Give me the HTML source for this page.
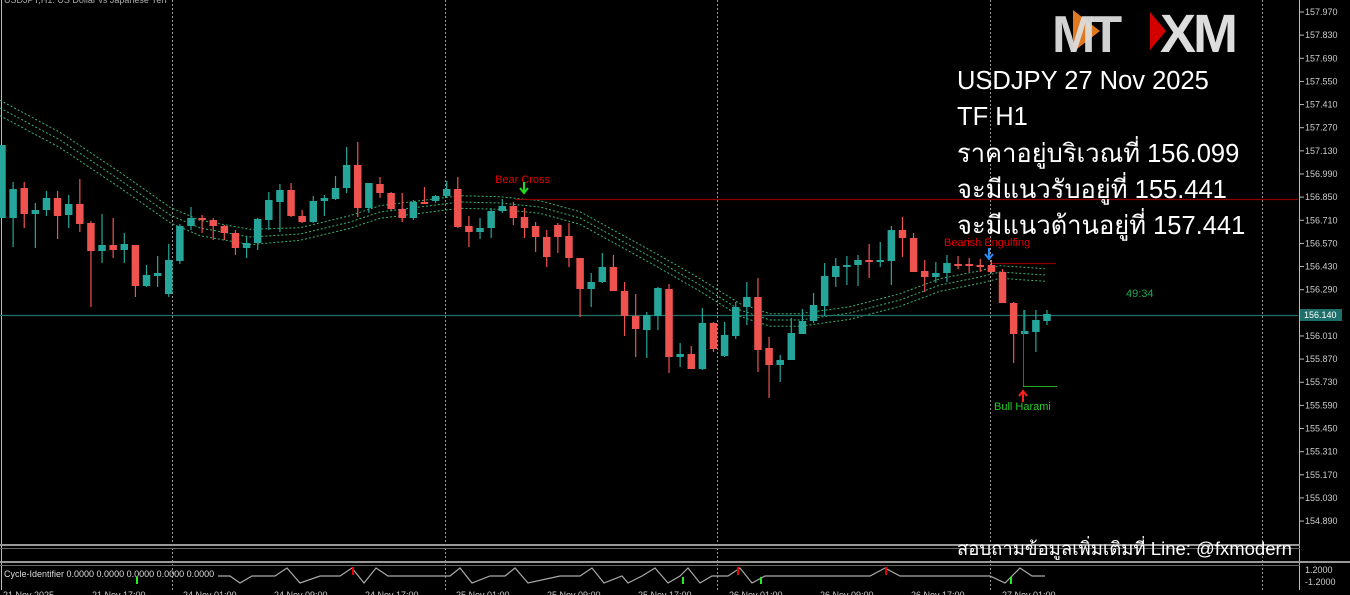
<!DOCTYPE html>
<html><head><meta charset="utf-8"><style>
html,body{margin:0;padding:0;background:#000;width:1350px;height:595px;overflow:hidden}
svg{display:block}
text{font-family:"Liberation Sans","Noto Sans CJK SC",sans-serif}
.t{font-family:"Liberation Sans","Noto Sans CJK SC","DejaVu Sans",sans-serif}
</style></head><body>
<svg id="s" width="1350" height="595" viewBox="0 0 1350 595" xmlns="http://www.w3.org/2000/svg">
<rect width="1350" height="595" fill="#000"/>
<g id="grid" stroke="#9a9a9a" stroke-width="1" stroke-dasharray="2,2">
<line x1="172.5" y1="0" x2="172.5" y2="590"/><line x1="445.5" y1="0" x2="445.5" y2="590"/>
<line x1="717.5" y1="0" x2="717.5" y2="590"/><line x1="990.5" y1="0" x2="990.5" y2="590"/>
<line x1="1262.5" y1="0" x2="1262.5" y2="590"/>
</g>
<line x1="1.5" y1="0" x2="1.5" y2="590" stroke="#bbb"/>
<line x1="1299.5" y1="0" x2="1299.5" y2="590" stroke="#bbb"/>
<text x="4" y="3" font-size="9" fill="#aaa">USDJPY,H1: US Dollar vs Japanese Yen</text>
<g id="ema" fill="none" stroke="#3cb371" stroke-width="1" stroke-dasharray="2,2"></g>
<line x1="515" y1="199.5" x2="1298" y2="199.5" stroke="#8b0000" stroke-width="1.3"/>
<line x1="990" y1="263.5" x2="1056" y2="263.5" stroke="#8b0000" stroke-width="1.3"/>
<line x1="0" y1="315.5" x2="1298" y2="315.5" stroke="#1f6f6a" stroke-width="1.3"/>
<g id="c"></g>
<text x="495" y="183" font-size="11" fill="#e00000">Bear Cross</text>
<path d="M524 182v10M520 188l4 5 4-5" stroke="#22dd22" stroke-width="2" fill="none"/>
<text x="944" y="246" font-size="11" fill="#e00000">Bearish Engulfing</text>
<path d="M989 248v10M985 254l4 5 4-5" stroke="#2a8cff" stroke-width="2" fill="none"/>
<line x1="1023.5" y1="310" x2="1023.5" y2="386" stroke="#1f6f6a"/>
<line x1="1023" y1="386.5" x2="1057" y2="386.5" stroke="#22aa22"/>
<path d="M1023 402v-10M1019 396l4-5 4 5" stroke="#ff2020" stroke-width="2" fill="none"/>
<text x="994" y="410" font-size="11" fill="#22cc22">Bull Harami</text>
<text x="1126" y="297" font-size="11" fill="#22aa55">49:34</text>
<g id="ax" font-size="9" fill="#ccc"></g>
<rect x="1300" y="309" width="42" height="12" fill="#1f6f6a"/>
<text x="1304" y="318" font-size="9" fill="#fff">156.140</text>
<!-- logo -->
<g>
<polygon points="1073,10 1100,31 1073,52" fill="#e07820"/>
<text x="1052" y="52" font-size="52" font-weight="bold" fill="#ddd" letter-spacing="-5" fill-opacity="0.95">MT</text>
<polygon points="1150,12 1166,31 1150,50" fill="#d40000"/>
<text x="1160" y="52" font-size="54" font-weight="bold" fill="#ddd" letter-spacing="-3">XM</text>
</g>
<g class="t" font-size="25.5" fill="#fff">
<text x="957" y="89">USDJPY 27 Nov 2025</text>
<text x="957" y="125">TF H1</text>
<text x="957" y="162">ราคาอยู่บริเวณที่ 156.099</text>
<text x="957" y="198">จะมีแนวรับอยู่ที่ 155.441</text>
<text x="957" y="234">จะมีแนวต้านอยู่ที่ 157.441</text>
</g>
<!-- separators -->
<rect x="0" y="544" width="1300" height="2" fill="#999"/>
<rect x="0" y="548" width="1300" height="1" fill="#666"/>
<rect x="0" y="561" width="1300" height="2" fill="#999"/>
<rect x="0" y="565" width="1300" height="1" fill="#666"/>
<rect x="1300" y="561" width="50" height="2" fill="#999"/>
<text class="t" x="957" y="555" font-size="18.5" fill="#fff">สอบถามข้อมูลเพิ่มเติมที่ Line: @fxmodern</text>
<text x="4" y="577" font-size="9" fill="#ddd">Cycle-Identifier 0.0000 0.0000 0.0000 0.0000 0.0000</text>
<polyline fill="none" stroke="#aaa" stroke-width="1.2" points="218,576 230,576 240,583 252,576 275,576 287,568 300,583 320,576 340,576 352,568 364,583 376,568 388,576 450,576 460,568 472,583 490,576 505,576 515,568 528,583 560,576 580,576 592,568 604,583 622,576 628,583 642,576 655,568 668,583 680,576 688,568 700,583 712,576 728,576 740,568 752,583 765,576 870,576 885,568 900,576 990,576 1005,583 1020,568 1032,576 1045,576"/>
<g stroke-width="2"><line x1="353" y1="567" x2="353" y2="575" stroke="#e00"/><line x1="738" y1="567" x2="738" y2="575" stroke="#e00"/><line x1="886" y1="567" x2="886" y2="575" stroke="#e00"/>
<line x1="137" y1="577" x2="137" y2="584" stroke="#2e2"/><line x1="683" y1="577" x2="683" y2="584" stroke="#2e2"/><line x1="761" y1="577" x2="761" y2="584" stroke="#2e2"/><line x1="1011" y1="577" x2="1011" y2="584" stroke="#2e2"/></g>
<text x="1305" y="573" font-size="9" fill="#ccc">1.2000</text>
<text x="1305" y="585" font-size="9" fill="#ccc">-1.2000</text>
<g font-size="9" fill="#ccc">
<text x="3" y="598">21 Nov 2025</text><text x="92" y="598">21 Nov 17:00</text><text x="183" y="598">24 Nov 01:00</text>
<text x="274" y="598">24 Nov 09:00</text><text x="365" y="598">24 Nov 17:00</text><text x="456" y="598">25 Nov 01:00</text>
<text x="547" y="598">25 Nov 09:00</text><text x="638" y="598">25 Nov 17:00</text><text x="729" y="598">26 Nov 01:00</text>
<text x="820" y="598">26 Nov 09:00</text><text x="911" y="598">26 Nov 17:00</text><text x="1002" y="598">27 Nov 01:00</text>
</g>
</svg>
<script>
var NS="http://www.w3.org/2000/svg",s=document.getElementById('s');
function el(p,t,a){var e=document.createElementNS(NS,t);for(var k in a)e.setAttribute(k,a[k]);p.appendChild(e);return e;}
var ax=document.getElementById('ax');
for(var i=0;i<23;i++){var y=12+i*23.14;var v=(157.970-i*0.14).toFixed(3);
el(ax,'line',{x1:1300,y1:y,x2:1304,y2:y,stroke:'#bbb'});var t=el(ax,'text',{x:1305,y:y+3});t.textContent=v;}
var pts=[[0,108],[60,140],[120,180],[170,215],[200,228],[250,237],[300,234],[350,222],[380,212],[420,207],[460,202],[500,203],[540,207],[580,218],[620,240],[660,262],[700,285],[740,310],[770,320],[800,320],[850,313],[900,300],[940,285],[980,277],[1000,272],[1045,275]];
var g=document.getElementById('ema');
[-7,0,7].forEach(function(o){el(g,'polyline',{points:pts.map(function(p){var w=o*(p[0]<300?1.1:0.9);return p[0]+','+(p[1]+w);}).join(' ')});});
var C=[[218,145,145,218],[218,189,182,247],[188,214,182,228],[214,210,203,248],[210,198,191,216],[198,216,191,239],[215,204,195,228],[204,224,179,232],[223,251,221,307],[251,245,214,263],[245,250,218,258],[250,244,233,263],[245,286,245,297],[286,275,265,287],[276,273,256,287],[294,260,244,297],[261,226,224,264],[226,218,207,230],[218,220,215,233],[220,226,218,240],[226,233,225,240],[233,248,230,255],[248,243,237,258],[243,219,218,250],[220,200,192,230],[202,190,184,232],[190,216,183,217],[216,222,210,223],[222,201,196,223],[201,198,195,216],[199,188,176,200],[188,165,147,193],[165,208,142,217],[208,183,183,213],[184,193,177,198],[193,209,192,210],[209,218,193,222],[218,202,200,220],[202,204,187,204],[201,196,195,203],[196,189,181,197],[189,227,177,228],[226,232,216,247],[232,228,218,239],[228,211,208,238],[211,206,199,213],[206,218,202,225],[217,228,208,238],[226,237,222,252],[237,257,230,267],[225,237,223,253],[236,258,223,267],[258,289,258,317],[289,282,273,307],[282,267,253,283],[267,291,255,291],[291,316,282,336],[316,329,294,357],[330,315,312,358],[316,288,287,330],[289,357,284,373],[357,354,343,367],[354,369,346,369],[369,323,308,370],[323,349,322,352],[356,335,322,357],[336,307,302,339],[307,297,282,325],[297,350,278,372],[348,365,337,398],[365,360,355,382],[360,333,318,360],[334,321,309,333],[321,305,293,323],[306,276,263,316],[277,266,258,287],[267,265,256,285],[265,260,255,286],[260,261,244,278],[261,260,242,267],[261,230,226,285],[230,238,217,257],[238,272,233,272],[271,277,260,292],[277,273,262,283],[273,263,255,282],[264,265,256,269],[264,265,258,272],[265,266,259,272],[265,272,260,273],[272,303,269,303],[303,334,302,363],[334,331,310,334],[332,320,310,352],[321,314,310,325]];
var cg=document.getElementById('c'),n=C.length;
C.forEach(function(c,i){var x=2+i*(1045/(n-1));var up=c[1]<c[0];var col=up?'#26a69a':'#ef5350';
el(cg,'line',{x1:x,y1:c[2],x2:x,y2:c[3],stroke:col,'stroke-width':1.2});
var t=Math.min(c[0],c[1]),h=Math.max(2,Math.abs(c[0]-c[1]));
el(cg,'rect',{x:x-3.75,y:t,width:7.5,height:h,fill:col});});
</script>
</body></html>
